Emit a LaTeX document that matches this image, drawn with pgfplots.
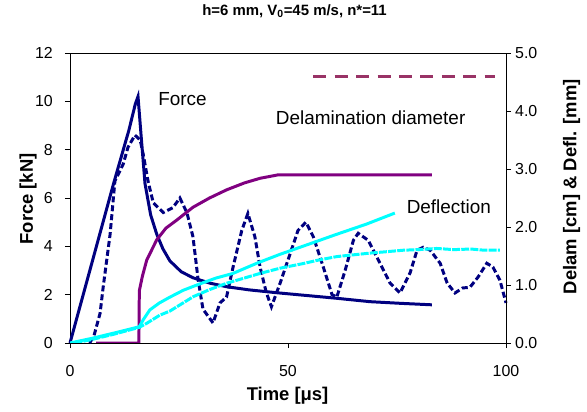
\documentclass[border=0pt]{standalone}
\usepackage{pgfplots}
\pgfplotsset{compat=1.18}
\usepackage{fontspec}
\setmainfont{Liberation Sans}
\definecolor{navyc}{HTML}{000080}
\definecolor{purpc}{HTML}{800080}
\definecolor{plumc}{HTML}{993366}
\definecolor{cyanc}{HTML}{00FFFF}
\begin{document}
\begin{tikzpicture}
\useasboundingbox (-70bp,-69bp) rectangle (517bp,343bp);
\pgfplotsset{
  every axis/.append style={
    scale only axis, width=436bp, height=290bp,
    at={(0,0)}, anchor=south west,
    xmin=0, xmax=100,
    tick align=outside, major tick length=5bp,
    tick style={black, line width=0.8pt},
    axis line style={black, line width=0.9pt},
    /pgf/number format/assume math mode=true,
    tick label style={font=\fontsize{16}{19}\selectfont},
    label style={font=\fontsize{18.5}{22}\selectfont\bfseries},
  }
}
\begin{axis}[
  ymin=0, ymax=12,
  xtick={0,50,100}, ytick={0,2,...,12},
  xtick pos=bottom, ytick pos=left,
  xticklabel style={anchor=center, yshift=-23bp, inner sep=0pt},
  yticklabel style={anchor=east, inner sep=0pt, xshift=-12bp},
  xlabel={Time [μs]}, ylabel={Force [kN]},
  xlabel style={at={(axis description cs:0.499,-0.183)}, anchor=center},
  ylabel style={at={(axis description cs:-0.0963,0.497)}, anchor=center, rotate=0},
  title={h=6 mm, V\textsubscript{0}=45 m/s, n*=11},
  title style={font=\fontsize{15}{18}\selectfont\bfseries, at={(axis description cs:0.515,1.124)}, anchor=center},
  clip=false,
]
% solid force
\addplot[navyc, line width=3pt] coordinates {
(0,0) (5,3.3) (10,6.6) (13.5,8.8) (15.0,9.9) (15.6,10.2) (16.3,8.6) (17.2,6.6) (18.5,5.3)
(19.9,4.5) (21.3,3.9) (22.9,3.4) (25.5,2.95) (28.2,2.7) (32,2.48) (35.9,2.33)
(41,2.2) (47.4,2.08) (54,1.97) (61.2,1.85) (68.8,1.71) (76,1.64) (83,1.58)};
% dashed force
\addplot[navyc, line width=3pt, dash pattern=on 6pt off 3pt] coordinates {
(4.5,0) (5.5,0.3) (6.9,1.23) (7.6,2.3) (9.2,4.5) (10.3,6.7) (12.2,7.4) (13.3,8.1)
(14.9,8.6) (16.1,8.4) (16.8,7.8) (17.9,6.7) (19.1,5.8) (21.4,5.4) (23.6,5.6)
(25.2,6.0) (26.8,5.4) (28.2,4.4) (29.4,2.6) (30.5,1.4) (32.8,0.83) (34.4,1.66)
(35.9,1.9) (37.4,3.14) (39.4,4.66) (40.8,5.36) (42.4,4.4) (43.6,3.14) (45.0,2.1)
(46.2,1.5) (48.2,2.48) (50.5,3.7) (52.3,4.66) (54.1,5.0) (55.8,4.4) (58.1,3.14)
(60.1,2.0) (61.2,1.9) (63.1,3.0) (65,4.25) (66.1,4.54) (68.4,4.25) (71.1,3.3)
(73.4,2.48) (75.7,2.07) (78,2.9) (79.6,3.84) (81,3.96) (82.6,3.84) (84.9,3.3)
(86.5,2.48) (88.3,2.07) (90.1,2.28) (91.7,2.3) (93.6,2.73) (95.6,3.3) (97,3.14)
(98.6,2.6) (100,1.66)};
\node[anchor=west, inner sep=0, font=\fontsize{19}{22}\selectfont] at (axis cs:20.2,10.09) {Force};
\node[anchor=west, inner sep=0, font=\fontsize{19}{22}\selectfont] at (axis cs:47.2,9.32) {Delamination diameter};
\node[anchor=west, inner sep=0, font=\fontsize{19}{22}\selectfont] at (axis cs:77.2,5.62) {Deflection};
\end{axis}
\begin{axis}[
  ymin=0, ymax=5,
  axis x line=none, axis y line*=right,
  ytick={0,1,...,5}, ytick pos=right,
  yticklabel style={anchor=west, inner sep=0pt, xshift=4bp, /pgf/number format/.cd, fixed, fixed zerofill, precision=1},
  ylabel={Delam [cm] \& Defl. [mm]},
  ylabel style={at={(axis description cs:1.1507,0.539)}, anchor=center, rotate=0},
]
% delamination diameter
\addplot[purpc, line width=3pt] coordinates {
(6,0) (15.8,0) (15.9,0.9) (16.6,1.15) (17.6,1.43) (19.9,1.78) (22,1.98) (24.5,2.12) (28.2,2.34)
(32,2.5) (35.9,2.64) (40,2.76) (43.6,2.84) (47.8,2.9) (60,2.9) (83,2.9)};
% delamination reference (dashed)
\addplot[plumc, line width=3pt, dash pattern=on 13pt off 8.5pt] coordinates {
(55.8,4.59) (97.5,4.59)};
% deflection smooth
\addplot[cyanc, line width=3pt] coordinates {
(0,0) (5,0.08) (10,0.17) (15.9,0.28) (16.8,0.4) (18.3,0.57) (20.5,0.69) (22.9,0.79)
(26,0.91) (29.8,1.02) (33.5,1.12) (37.4,1.2) (43,1.38) (48.2,1.53) (55,1.71)
(61,1.87) (68,2.05) (74.5,2.24)};
% deflection measured (noisy)
\addplot[cyanc, line width=3pt, dash pattern=on 8pt off 1.2pt] coordinates {
(1,0) (5,0.06) (10,0.15) (15.9,0.27) (17.6,0.34) (20.6,0.48) (22.9,0.55)
(25.5,0.67) (28.3,0.8) (32,0.92) (35.9,1.03) (40,1.12) (43.6,1.2) (48.2,1.29)
(53.5,1.37) (57,1.43) (61.2,1.49) (65,1.52) (68.8,1.55) (72,1.57) (76.5,1.6)
(80,1.61) (84.1,1.63) (88,1.61) (92,1.62) (95,1.6) (98.6,1.6)};
\end{axis}
\end{tikzpicture}
\end{document}
